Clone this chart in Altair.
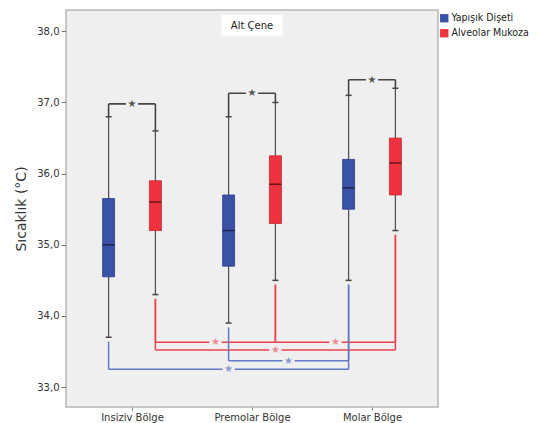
import altair as alt
import pandas as pd

categories = ["Insiziv Bölge", "Premolar Bölge", "Molar Bölge"]
groups = ["Yapışık Dişeti", "Alveolar Mukoza"]

# box statistics per group (Insiziv, Premolar, Molar)
w_low = {"Yapışık Dişeti": [33.7, 33.9, 34.5], "Alveolar Mukoza": [34.3, 34.5, 35.2]}
q1 = {"Yapışık Dişeti": [34.55, 34.7, 35.5], "Alveolar Mukoza": [35.2, 35.3, 35.7]}
median = {"Yapışık Dişeti": [35.0, 35.2, 35.8], "Alveolar Mukoza": [35.6, 35.85, 36.15]}
q3 = {"Yapışık Dişeti": [35.65, 35.7, 36.2], "Alveolar Mukoza": [35.9, 36.25, 36.5]}
w_high = {"Yapışık Dişeti": [36.8, 36.8, 37.1], "Alveolar Mukoza": [36.6, 37.0, 37.2]}

# significance between groups in each region (bracket level)
top_levels = [36.98, 37.13, 37.32]
# significance between regions within group: (group, region a, region b, level)
bottom_pairs = [
    ("Alveolar Mukoza", 0, 1, 33.63),
    ("Alveolar Mukoza", 1, 2, 33.63),
    ("Alveolar Mukoza", 0, 2, 33.52),
    ("Yapışık Dişeti", 1, 2, 33.37),
    ("Yapışık Dişeti", 0, 2, 33.25),
]
panel_title = "Alt Çene"

Y_DOMAIN = [32.72, 38.3]
OFF = {"Yapışık Dişeti": -0.195, "Alveolar Mukoza": 0.195}
BOX_HALF = 0.05
CAP_HALF = 0.025
GAP = 0.06
BG = "#efefef"
FILL = {"Yapışık Dişeti": "#3a52a6", "Alveolar Mukoza": "#ee323e"}
EDGE = {"Yapışık Dişeti": "#2b3d8a", "Alveolar Mukoza": "#c8262f"}
MED = {"Yapışık Dişeti": "#1c2450", "Alveolar Mukoza": "#6a161b"}
LINE = {"Yapışık Dişeti": "#6478c4", "Alveolar Mukoza": "#e8434d"}
STARC = {"Yapışık Dişeti": "#8d9ad0", "Alveolar Mukoza": "#e98a90"}

box_rows, cap_rows = [], []
for g in groups:
    for ci, c in enumerate(categories):
        p = ci + OFF[g]
        box_rows.append(dict(group=g, pos=p, x1=p - BOX_HALF, x2=p + BOX_HALF,
                             lo=w_low[g][ci], q1=q1[g][ci], med=median[g][ci],
                             q3=q3[g][ci], hi=w_high[g][ci], medc=MED[g], edge=EDGE[g]))
        for v in (w_low[g][ci], w_high[g][ci]):
            cap_rows.append(dict(x1=p - CAP_HALF, x2=p + CAP_HALF, y=v))
boxes = pd.DataFrame(box_rows)
caps = pd.DataFrame(cap_rows)

seg_black, star_black = [], []
for ci, lvl in enumerate(top_levels):
    pb = ci + OFF[groups[0]]
    pr = ci + OFF[groups[1]]
    seg_black.append(dict(x=pb, x2=pb, y=w_high[groups[0]][ci], y2=lvl))
    seg_black.append(dict(x=pr, x2=pr, y=w_high[groups[1]][ci], y2=lvl))
    seg_black.append(dict(x=pb, x2=pr, y=lvl, y2=lvl))
    star_black.append(dict(x=ci, y=lvl, c="#555555"))

seg_col, star_col = [], []
for g, a, b, lvl in bottom_pairs:
    pa = a + OFF[g]
    pb = b + OFF[g]
    seg_col.append(dict(x=pa, x2=pa, y=w_low[g][a] - GAP, y2=lvl, c=LINE[g]))
    seg_col.append(dict(x=pb, x2=pb, y=w_low[g][b] - GAP, y2=lvl, c=LINE[g]))
    seg_col.append(dict(x=pa, x2=pb, y=lvl, y2=lvl, c=LINE[g]))
    star_col.append(dict(x=(pa + pb) / 2, y=lvl, c=STARC[g]))

segb = pd.DataFrame(seg_black)
segc = pd.DataFrame(seg_col)
stars = pd.DataFrame(star_black + star_col)
# title box centred over the middle region, at the top of the panel
one = pd.DataFrame([{"t": panel_title, "xc": 1.0, "x1": 1.0 - 0.255, "x2": 1.0 + 0.255,
                     "y1": Y_DOMAIN[1] - 0.07, "y2": Y_DOMAIN[1] - 0.37,
                     "yc": Y_DOMAIN[1] - 0.22}])

xs = alt.Scale(domain=[-0.55, 2.55], nice=False, zero=False)
ys = alt.Scale(domain=Y_DOMAIN, nice=False, zero=False)

label_expr = "datum.value == 0 ? '%s' : datum.value == 1 ? '%s' : '%s'" % tuple(categories)
X = alt.X("pos:Q", scale=xs, axis=alt.Axis(values=[0, 1, 2], labelExpr=label_expr, title=None,
                                              grid=False, domain=False, tickSize=3, tickColor="#888",
                                              labelFontSize=10, labelColor="#333", labelPadding=2))
Yaxis = alt.Axis(values=[33, 34, 35, 36, 37, 38],
                 labelExpr="replace(format(datum.value, '.1f'), '.', ',')",
                 title="Sıcaklık (°C)", titleFontSize=14, titleFontWeight="normal",
                 titleColor="#333", titlePadding=8, grid=False, domain=False,
                 tickSize=5, tickColor="#777", labelFontSize=10, labelColor="#333")

whisk = alt.Chart(boxes).mark_rule(color="#555555", strokeWidth=1.3).encode(
    x=X, y=alt.Y("lo:Q", scale=ys, axis=Yaxis), y2="hi:Q")
capl = alt.Chart(caps).mark_rule(color="#444444", strokeWidth=1.5).encode(
    x=alt.X("x1:Q", scale=xs), x2="x2:Q", y=alt.Y("y:Q", scale=ys))
box = alt.Chart(boxes).mark_rect(strokeWidth=0.8).encode(
    x=alt.X("x1:Q", scale=xs), x2="x2:Q",
    y=alt.Y("q1:Q", scale=ys), y2="q3:Q",
    fill=alt.Fill("group:N", scale=alt.Scale(domain=groups, range=[FILL[g] for g in groups]),
                  legend=alt.Legend(title=None, orient="none", legendX=373, legendY=3,
                                    symbolType="square", symbolSize=70, symbolStrokeWidth=0,
                                    labelFontSize=10.5, labelFont="DejaVu Sans Condensed",
                                    labelColor="#222", rowPadding=4,
                                    labelOffset=2, padding=0, labelLimit=200)),
    stroke=alt.Stroke("edge:N", scale=None))
med = alt.Chart(boxes).mark_rule(strokeWidth=1.5).encode(
    x=alt.X("x1:Q", scale=xs), x2="x2:Q", y=alt.Y("med:Q", scale=ys),
    color=alt.Color("medc:N", scale=None))
blk = alt.Chart(segb).mark_rule(color="#444444", strokeWidth=1.6).encode(
    x=alt.X("x:Q", scale=xs), x2="x2:Q", y=alt.Y("y:Q", scale=ys), y2="y2:Q")
col = alt.Chart(segc).mark_rule(strokeWidth=1.5).encode(
    x=alt.X("x:Q", scale=xs), x2="x2:Q", y=alt.Y("y:Q", scale=ys), y2="y2:Q",
    color=alt.Color("c:N", scale=None))
star_bg = alt.Chart(stars).mark_square(size=150, filled=True, color=BG, opacity=1).encode(
    x=alt.X("x:Q", scale=xs), y=alt.Y("y:Q", scale=ys))
star_tx = alt.Chart(stars).mark_text(text="★", fontSize=10, baseline="middle", align="center",
                                     font="DejaVu Sans").encode(
    x=alt.X("x:Q", scale=xs), y=alt.Y("y:Q", scale=ys), color=alt.Color("c:N", scale=None))

title_bg = alt.Chart(one).mark_rect(fill="white", strokeWidth=0).encode(
    x=alt.X("x1:Q", scale=xs), x2="x2:Q", y=alt.Y("y1:Q", scale=ys), y2="y2:Q")
title_tx = alt.Chart(one).mark_text(fontSize=10, color="#222", fontWeight="normal",
                                    baseline="middle", align="center").encode(
    x=alt.X("xc:Q", scale=xs), y=alt.Y("yc:Q", scale=ys), text="t:N")

chart = alt.layer(title_bg, title_tx, col, whisk, capl, box, med, blk, star_bg, star_tx).properties(
    width=372, height=397,
    autosize=alt.AutoSizeParams(type="none"),
    padding={"left": 58, "top": 2, "right": 96, "bottom": 20},
    background="white",
).configure(font="DejaVu Sans").configure_view(fill=BG, stroke="#b8b8b8", strokeWidth=1.5)

chart.save("out.html", embed_options={"renderer": "svg", "actions": False})
